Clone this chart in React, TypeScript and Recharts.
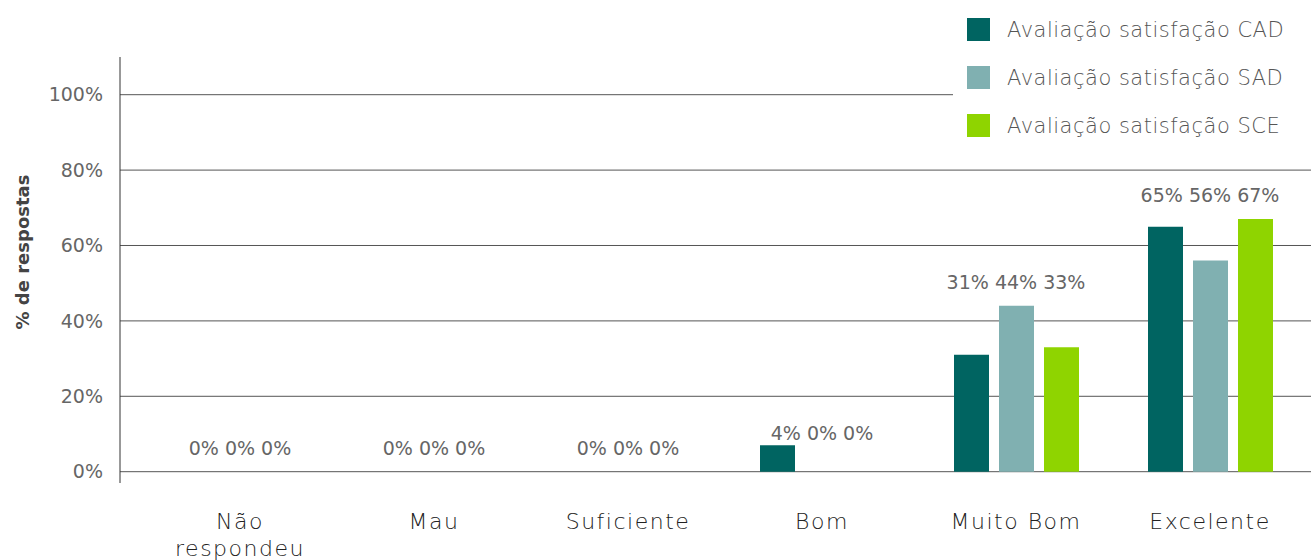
import React from 'react'
import {
	ComposedChart,
	Bar,
	Line,
	XAxis,
	YAxis,
	CartesianGrid,
	LabelList,
	Label,
} from 'recharts'

// '\n' marks where the category label breaks onto a second line
const categories = ['Não\nrespondeu', 'Mau', 'Suficiente', 'Bom', 'Muito Bom', 'Excelente']
const cadValues = [0, 0, 0, 7, 31, 65]
const sadValues = [0, 0, 0, 0, 44, 56]
const sceValues = [0, 0, 0, 0, 33, 67]
// percentages printed above each group
const cadShown = [0, 0, 0, 4, 31, 65]
const sadShown = [0, 0, 0, 0, 44, 56]
const sceShown = [0, 0, 0, 0, 33, 67]
const yTicks = [0, 20, 40, 60, 80, 100]

const series = [
	{ key: 'cad', name: 'Avaliação satisfação CAD', color: '#006461' },
	{ key: 'sad', name: 'Avaliação satisfação SAD', color: '#80b0b1' },
	{ key: 'sce', name: 'Avaliação satisfação SCE', color: '#8fd400' },
]

const data = categories.map((name, i) => ({
	name,
	cad: cadValues[i],
	sad: sadValues[i],
	sce: sceValues[i],
	labelTop: Math.max(cadShown[i], sadShown[i], sceShown[i]),
	labelText: `${cadShown[i]}% ${sadShown[i]}% ${sceShown[i]}%`,
}))

const sans = '"DejaVu Sans", sans-serif'

function CategoryTick(props: any) {
	const { x, y, payload } = props
	const lines = String(payload.value).split('\n')
	return (
		<text
			x={x}
			y={y}
			textAnchor='middle'
			fill='#222'
			style={{ fontFamily: sans, fontSize: 22, fontWeight: 300, letterSpacing: 1.5 }}
		>
			{lines.map((l, i) => (
				<tspan key={i} x={x} dy={i === 0 ? 16 : 27}>
					{l}
				</tspan>
			))}
		</text>
	)
}

function GroupLabel(props: any) {
	const { x, y, index } = props
	return (
		<text
			x={x}
			y={y - 24}
			textAnchor='middle'
			dominantBaseline='central'
			fill='#666'
			style={{ fontFamily: sans, fontSize: 19 }}
		>
			{data[index].labelText}
		</text>
	)
}

function LegendBox() {
	return (
		<div
			style={{
				position: 'absolute',
				left: 953,
				top: 0,
				background: '#fff',
				width: 358,
				height: 150,
			}}
		>
			{series.map((s, i) => (
				<div
					key={s.key}
					style={{
						position: 'absolute',
						left: 14,
						top: 18 + i * 48,
						display: 'flex',
						alignItems: 'center',
						height: 23,
					}}
				>
					<span style={{ width: 23, height: 23, background: s.color, display: 'inline-block' }} />
					<span
						style={{
							marginLeft: 17,
							fontFamily: sans,
							fontSize: 21,
							fontWeight: 300,
							letterSpacing: 0.5,
							color: '#555',
							whiteSpace: 'nowrap',
						}}
					>
						{s.name}
					</span>
				</div>
			))}
		</div>
	)
}

export default function App() {
	return (
		<div style={{ position: 'absolute', left: 0, top: 0, width: 1311, height: 560, background: '#fff' }}>
			<ComposedChart
				width={1311}
				height={560}
				data={data}
				margin={{ top: 57, right: 0, bottom: 0, left: 0 }}
				barSize={35}
				barGap={10}
			>
				<CartesianGrid vertical={false} stroke='#555' horizontalValues={yTicks} />
				<XAxis
					dataKey='name'
					height={77}
					axisLine={false}
					tickLine={false}
					tickSize={0}
					tickMargin={30}
					padding={{ left: 23, right: 4 }}
					tick={<CategoryTick />}
					interval={0}
				/>
				<YAxis
					width={120}
					domain={[-3, 110]}
					ticks={yTicks}
					tickFormatter={(v: number) => `${v}%`}
					axisLine={{ stroke: '#333' }}
					tickLine={false}
					tickSize={0}
					tickMargin={17}
					tick={{ fill: '#666', fontSize: 19, fontFamily: sans }}
				>
					<Label
						content={(p: any) => {
							const vb = p.viewBox
							const cx = vb.x + 22
							const cy = vb.y + vb.height / 2 - 18
							return (
								<text
									x={cx}
									y={cy}
									transform={`rotate(-90 ${cx} ${cy})`}
									textAnchor='middle'
									dominantBaseline='central'
									fill='#444'
									style={{ fontFamily: sans, fontSize: 18, fontWeight: 'bold' }}
								>
									% de respostas
								</text>
							)
						}}
					/>
				</YAxis>
				{series.map((s) => (
					<Bar key={s.key} dataKey={s.key} name={s.name} fill={s.color} isAnimationActive={false} />
				))}
				<Line
					dataKey='labelTop'
					stroke='none'
					dot={false}
					activeDot={false}
					legendType='none'
					isAnimationActive={false}
				>
					<LabelList dataKey='labelTop' content={<GroupLabel />} />
				</Line>
			</ComposedChart>
			<LegendBox />
		</div>
	)
}
